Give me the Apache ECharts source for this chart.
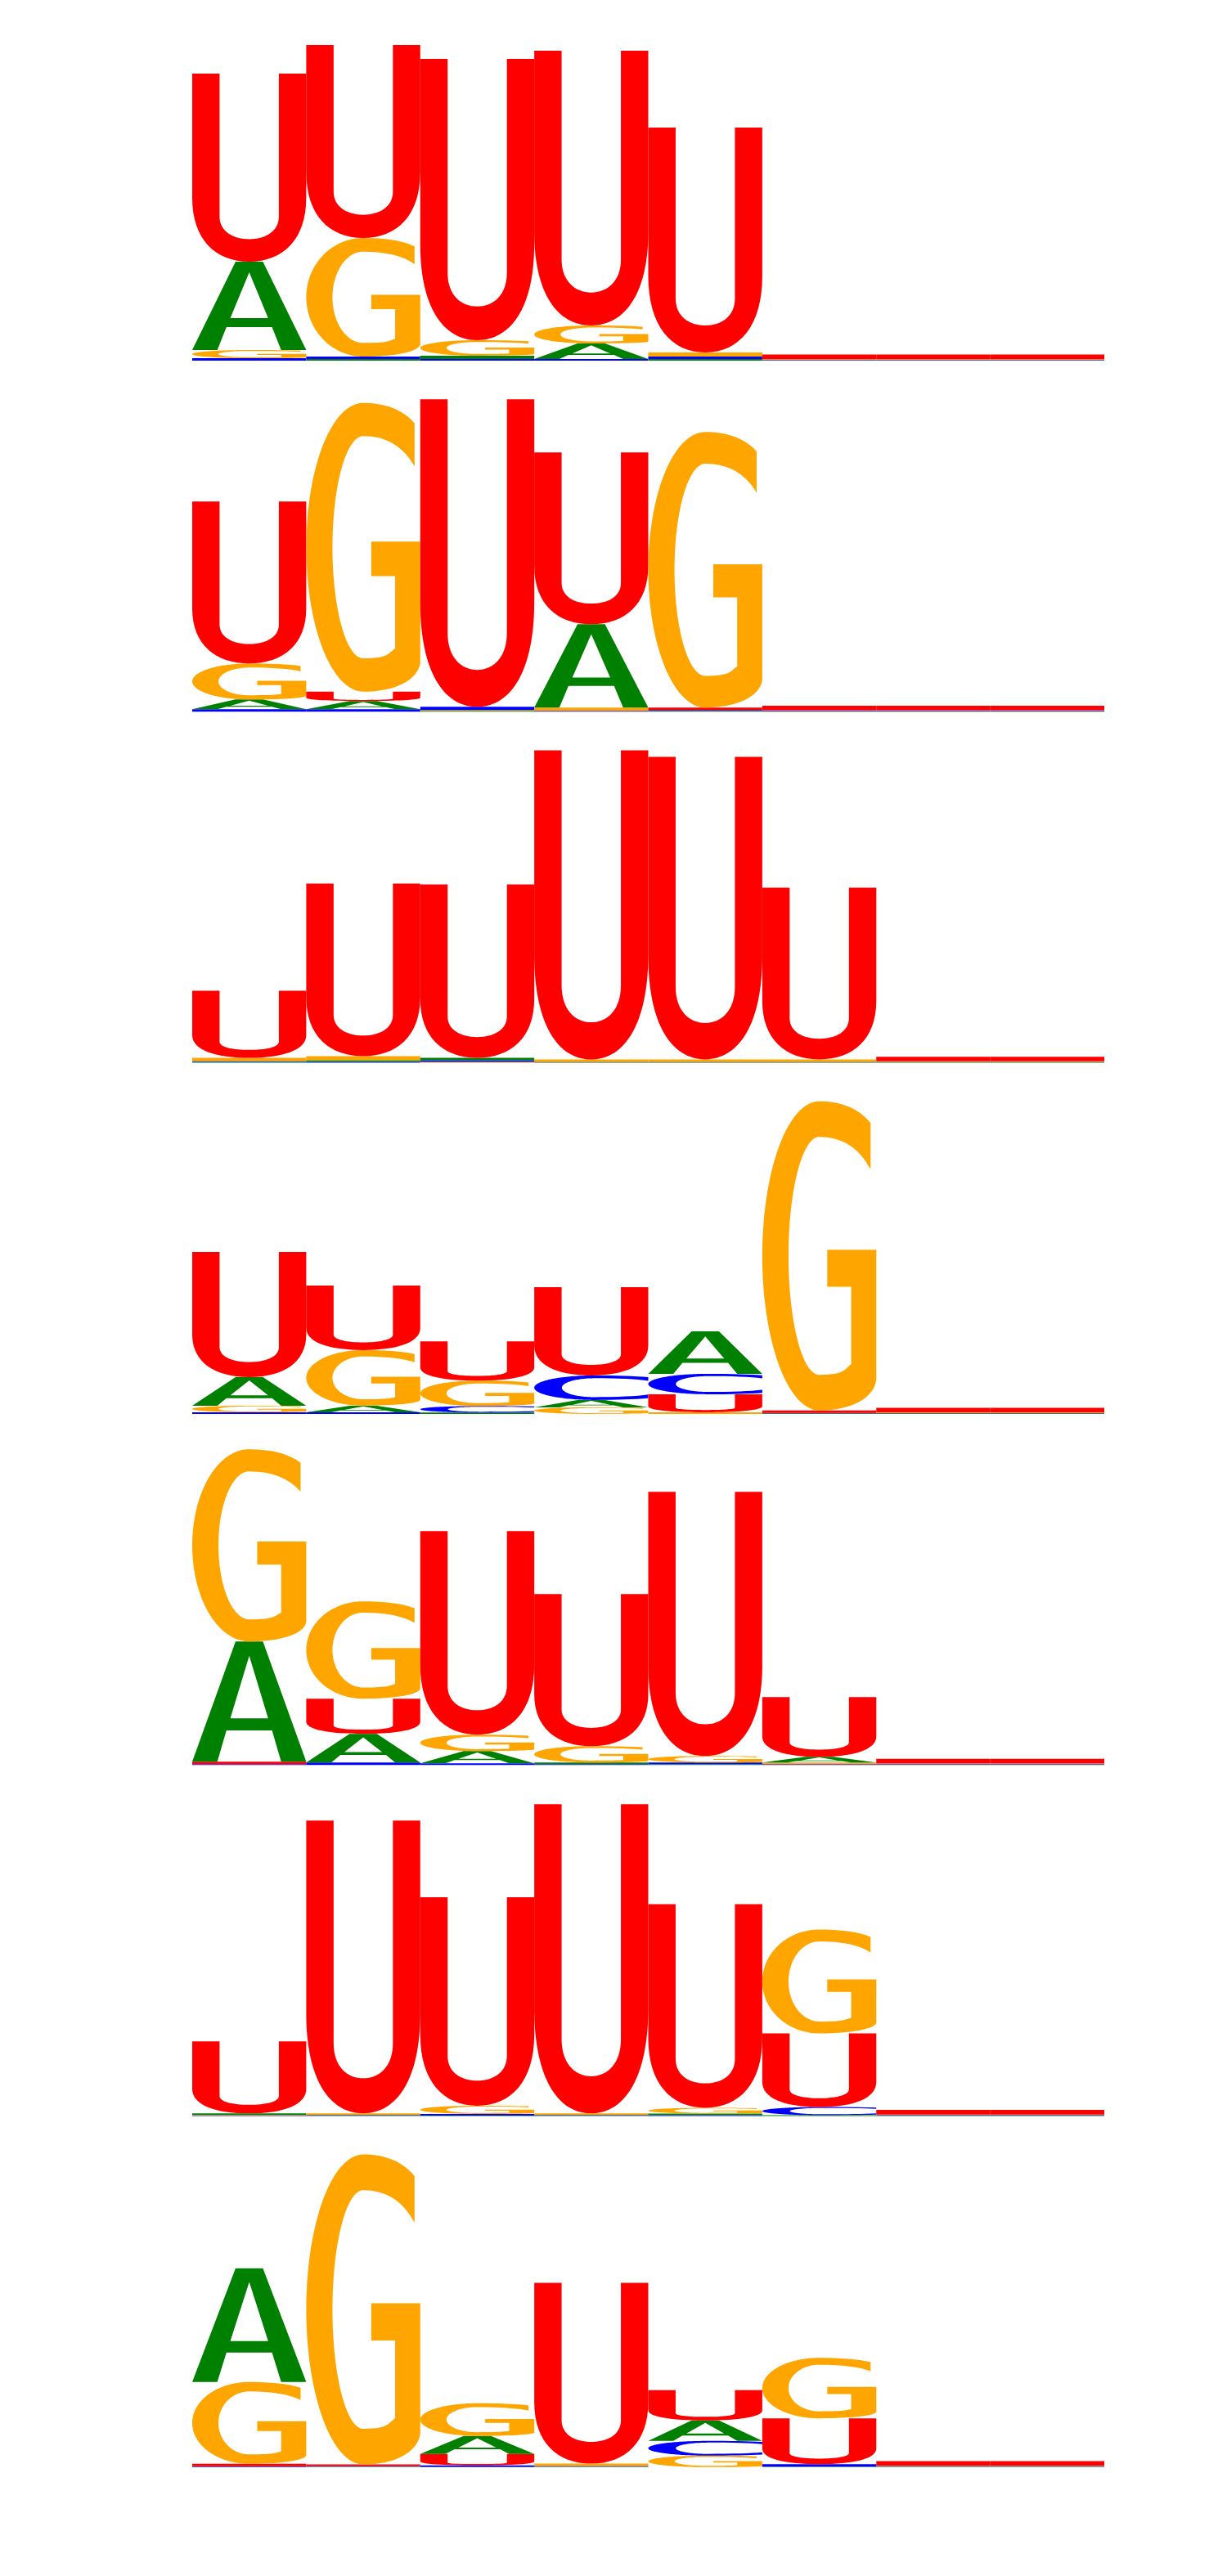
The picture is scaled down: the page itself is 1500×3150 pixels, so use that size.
<!DOCTYPE html>
<html>
<head>
<meta charset="utf-8">
<script src="https://cdn.jsdelivr.net/npm/echarts@6/dist/echarts.min.js"></script>
<style>
html, body { margin: 0; padding: 0; background: #fff; }
#logo { width: 1500px; height: 3150px; }
</style>
</head>
<body>
<div id="logo"></div>
<script>
// seven RNA logos, 8 positions each, letter heights in bits
var positions = [1, 2, 3, 4, 5, 6, 7, 8];
var letters = ['A', 'C', 'G', 'U'];
var letterColors = ['#008000', '#0000ff', '#ffa500', '#ff0000'];

var bitsA = [
    [0.54, 0.01, 0.02, 0.095, 0.01, 0.003, 0.003, 0.003],
    [0.06, 0.05, 0.005, 0.51, 0.005, 0.003, 0.003, 0.003],
    [0.005, 0.01, 0.015, 0.003, 0.003, 0.003, 0.003, 0.003],
    [0.175, 0.04, 0.008, 0.045, 0.26, 0.003, 0.003, 0.003],
    [0.735, 0.175, 0.075, 0.01, 0.005, 0.035, 0.003, 0.003],
    [0.01, 0.003, 0.003, 0.003, 0.01, 0.005, 0.003, 0.003],
    [0.695, 0.003, 0.11, 0.003, 0.125, 0.003, 0.003, 0.003]
];
var bitsC = [
    [0.015, 0.015, 0.01, 0.01, 0.015, 0.003, 0.003, 0.003],
    [0.015, 0.015, 0.02, 0.005, 0.005, 0.003, 0.003, 0.003],
    [0.005, 0.005, 0.01, 0.003, 0.003, 0.003, 0.003, 0.003],
    [0.01, 0.01, 0.04, 0.15, 0.125, 0.003, 0.003, 0.003],
    [0.005, 0.015, 0.01, 0.005, 0.01, 0.005, 0.003, 0.003],
    [0.003, 0.003, 0.01, 0.003, 0.005, 0.05, 0.003, 0.003],
    [0.005, 0.003, 0.01, 0.003, 0.09, 0.015, 0.003, 0.003]
];
var bitsG = [
    [0.05, 0.725, 0.095, 0.11, 0.025, 0.003, 0.003, 0.003],
    [0.22, 1.765, 0.005, 0.02, 1.685, 0.003, 0.003, 0.003],
    [0.02, 0.025, 0.005, 0.015, 0.015, 0.015, 0.003, 0.003],
    [0.04, 0.34, 0.155, 0.04, 0.01, 1.89, 0.003, 0.003],
    [1.175, 0.595, 0.10, 0.10, 0.04, 0.01, 0.003, 0.003],
    [0.003, 0.01, 0.05, 0.01, 0.035, 0.635, 0.003, 0.003],
    [0.50, 1.895, 0.20, 0.015, 0.07, 0.37, 0.003, 0.003]
];
var bitsU = [
    [1.15, 1.18, 1.72, 1.68, 1.375, 0.028, 0.028, 0.028],
    [0.99, 0.058, 1.88, 1.05, 0.015, 0.028, 0.028, 0.028],
    [0.41, 1.055, 1.06, 1.89, 1.85, 1.05, 0.028, 0.028],
    [0.765, 0.395, 0.24, 0.54, 0.11, 0.015, 0.028, 0.028],
    [0.015, 0.215, 1.245, 0.93, 1.615, 0.365, 0.028, 0.028],
    [0.44, 1.79, 1.275, 1.89, 1.245, 0.45, 0.028, 0.028],
    [0.015, 0.01, 0.07, 1.105, 0.185, 0.28, 0.028, 0.028]
];
var allBits = [bitsA, bitsC, bitsG, bitsU];

// glyph outlines in a 100x100 box
function halfRound(rx, ry, a0, a1) {
    // left half of an ellipse, from angle a0 to a1 (degrees)
    var pts = [];
    var n = Math.ceil(Math.abs(a1 - a0) / 2);
    for (var i = 0; i <= n; i++) {
        var a = (a0 + (a1 - a0) * i / n) * Math.PI / 180;
        pts.push([50 + rx * Math.cos(a), 50 - ry * Math.sin(a)]);
    }
    return pts;
}
function lineTo(pts) {
    return pts.map(function (p) {
        return 'L' + p[0].toFixed(2) + ',' + p[1].toFixed(2);
    }).join('');
}
var glyphA = 'M0,100L38,0L62,0L100,100L78,100L70,74L30,74L22,100Z M50,12L33.4,64L66.6,64Z';
var glyphC = 'M50,0C68,0 84,2 95,7L95,22C85,15 70,11.5 50,11.5' +
    lineTo(halfRound(27, 38.5, 90, 270)) +
    'C70,88.5 85,85 95,78L95,93C84,98 68,100 50,100' +
    lineTo(halfRound(50, 50, 270, 90)) + 'Z';
var glyphG = 'M50,0C68,0 84,2 95,7L95,22C85,15 70,11.5 50,11.5' +
    lineTo(halfRound(27, 38.5, 90, 270)) +
    'C62,88.5 68,88 72,87L78,85L78,60L57,60L57,48L100,48L100,90C98,96 78,100 50,100' +
    lineTo(halfRound(50, 50, 270, 90)) + 'Z';
var glyphU = 'M0,0L24,0L24,76C24,84 36,88 50,88C64,88 76,84 76,76L76,0L100,0L100,66' +
    'C100,88 80,100 50,100C20,100 0,88 0,66Z';
var glyphs = [glyphA, glyphC, glyphG, glyphU];

function stackPanel(p) {
    var out = [];
    positions.forEach(function (pos, j) {
        var col = letters.map(function (l, k) { return { k: k, v: allBits[k][p][j] }; });
        col.sort(function (a, b) { return a.v - b.v; });
        var y = 0;
        col.forEach(function (c) {
            out.push([pos, c.k, y, y + c.v]);
            y += c.v;
        });
    });
    return out;
}

function renderLetter(params, api) {
    var pos = api.value(0), k = api.value(1);
    var tl = api.coord([pos - 0.5, api.value(3)]);
    var br = api.coord([pos + 0.5, api.value(2)]);
    var w = br[0] - tl[0], h = br[1] - tl[1];
    if (h < 6.5) {
        // too thin to show a letter shape: a flat strip
        return {
            type: 'rect',
            shape: { x: tl[0], y: tl[1], width: w, height: h },
            style: { fill: letterColors[k] }
        };
    }
    return {
        type: 'path',
        shape: { pathData: glyphs[k], x: tl[0], y: tl[1], width: w, height: h, layout: 'cover' },
        style: { fill: letterColors[k] }
    };
}

var chart = echarts.init(document.getElementById('logo'));
var grids = [], xAxes = [], yAxes = [], series = [];
for (var p = 0; p < 7; p++) {
    var base = 441 + 429.3 * p;
    grids.push({ left: 235, width: 1115, top: base - 400, height: 400 });
    xAxes.push({ type: 'value', gridIndex: p, min: 0.5, max: 8.5, show: false });
    yAxes.push({ type: 'value', gridIndex: p, min: 0, max: 2, show: false });
    series.push({
        type: 'custom',
        xAxisIndex: p,
        yAxisIndex: p,
        silent: true,
        renderItem: renderLetter,
        data: stackPanel(p)
    });
}
chart.setOption({
    backgroundColor: '#ffffff',
    animation: false,
    grid: grids,
    xAxis: xAxes,
    yAxis: yAxes,
    series: series
});
</script>
</body>
</html>
